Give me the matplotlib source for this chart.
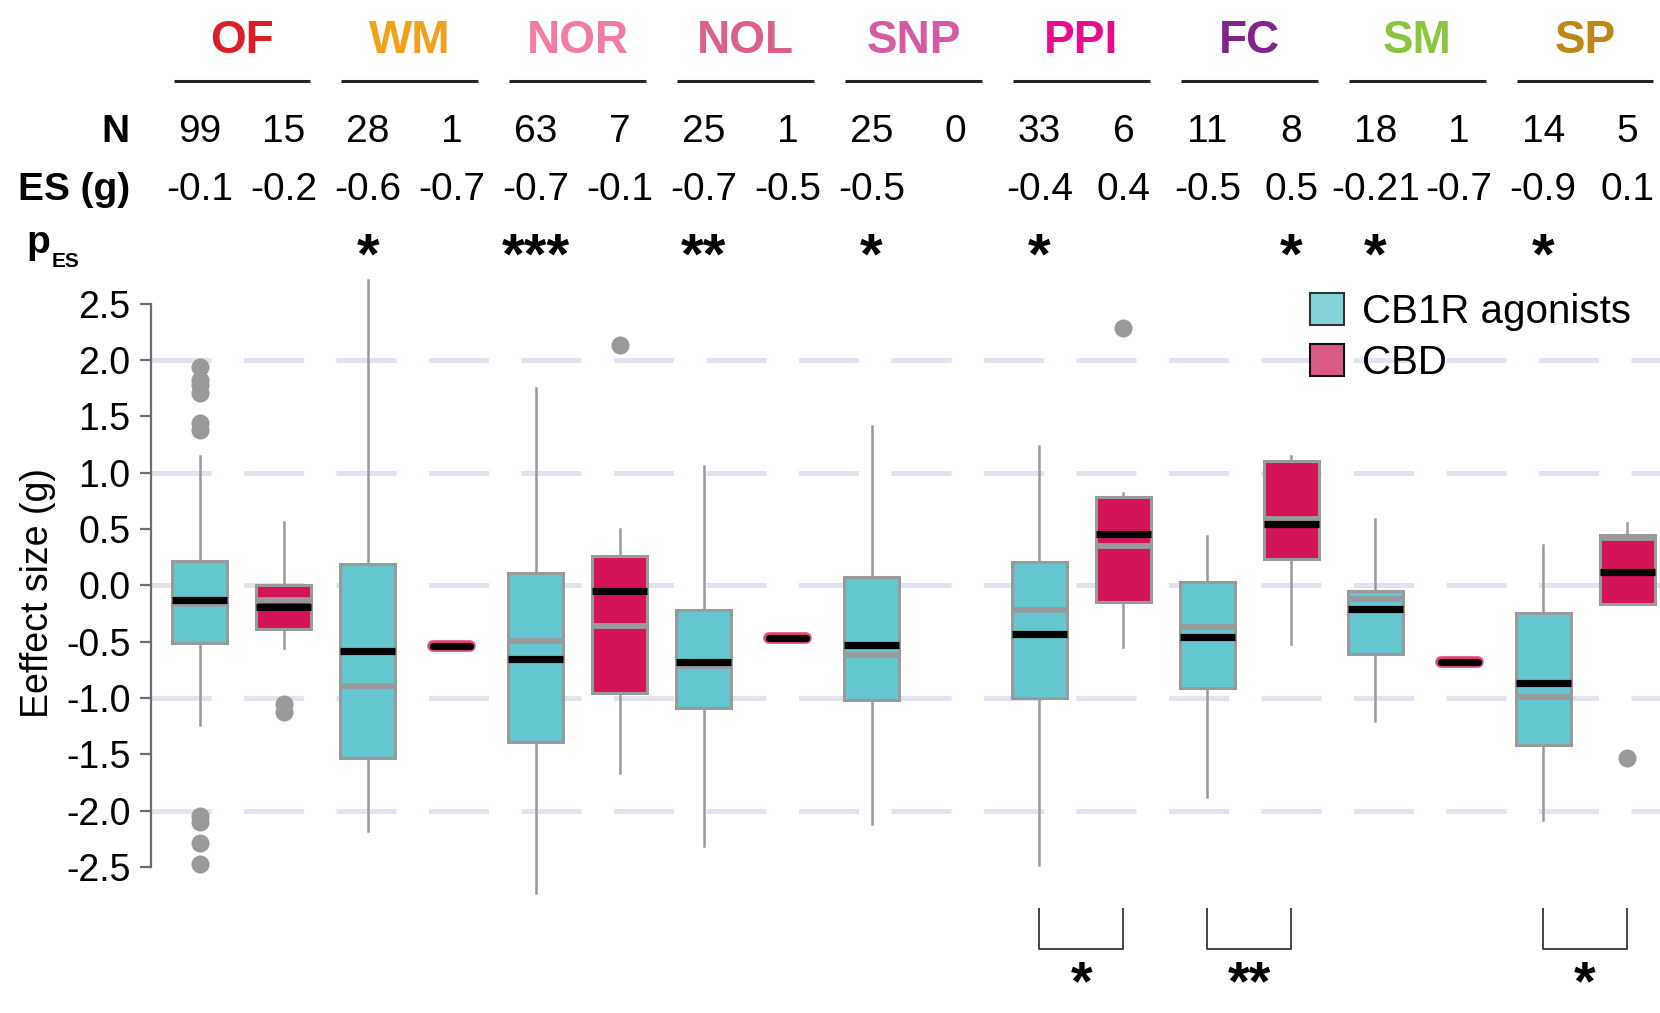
import numpy as np
import matplotlib
matplotlib.use("Agg")
import matplotlib.pyplot as plt
from matplotlib.patches import Patch
import matplotlib.patheffects as pe
from matplotlib.transforms import blended_transform_factory

plt.rcParams['font.family'] = ['Liberation Sans', 'DejaVu Sans']

# ---- behavioural domains -------------------------------------------------
groups = ['OF', 'WM', 'NOR', 'NOL', 'SNP', 'PPI', 'FC', 'SM', 'SP']
group_colors = ['#DA1F26', '#F5A01A', '#F47BA3', '#DD5F8B', '#D35CA2',
                '#EA0A8E', '#82248A', '#8CC63F', '#BE8718']

# number of studies
n_cb1r = [99, 28, 63, 25, 25, 33, 11, 18, 14]
n_cbd = [15, 1, 7, 1, 0, 6, 8, 1, 5]

# pooled effect sizes as printed
es_cb1r = ['-0.1', '-0.6', '-0.7', '-0.7', '-0.5', '-0.4', '-0.5', '-0.21', '-0.9']
es_cbd = ['-0.2', '-0.7', '-0.1', '-0.5', '', '0.4', '0.5', '-0.7', '0.1']

# significance of the pooled effect
p_cb1r = ['', '*', '***', '**', '*', '*', '', '*', '*']
p_cbd = ['', '', '', '', '', '', '*', '', '']

# CB1R agonists: box summaries
cb1r_q1 = [-0.51, -1.53, -1.39, -1.09, -1.02, -1.00, -0.91, -0.61, -1.42]
cb1r_med = [-0.17, -0.89, -0.49, -0.72, -0.62, -0.22, -0.37, -0.12, -0.99]
cb1r_q3 = [0.22, 0.19, 0.11, -0.22, 0.07, 0.21, 0.03, -0.05, -0.25]
cb1r_lo = [-1.24, -2.18, -2.73, -2.31, -2.12, -2.48, -1.88, -1.20, -2.08]
cb1r_hi = [1.15, 2.71, 1.75, 1.06, 1.41, 1.24, 0.44, 0.59, 0.36]
cb1r_mean = [-0.13, -0.58, -0.65, -0.68, -0.53, -0.43, -0.46, -0.21, -0.87]
cb1r_fliers = [[1.94, 1.82, 1.78, 1.71, 1.44, 1.38, -2.05, -2.10, -2.29, -2.47],
               [], [], [], [], [], [], [], []]

# CBD: box summaries (nan where fewer than two studies)
nan = np.nan
cbd_q1 = [-0.39, nan, -0.96, nan, nan, -0.15, 0.23, nan, -0.17]
cbd_med = [-0.13, nan, -0.36, nan, nan, 0.35, 0.59, nan, 0.42]
cbd_q3 = [0.00, nan, 0.26, nan, nan, 0.78, 1.10, nan, 0.45]
cbd_lo = [-0.56, nan, -1.67, nan, nan, -0.55, -0.52, nan, -0.17]
cbd_hi = [0.56, nan, 0.50, nan, nan, 0.82, 1.15, nan, 0.55]
cbd_mean = [-0.19, nan, -0.05, nan, nan, 0.46, 0.54, nan, 0.12]
cbd_fliers = [[-1.05, -1.12], [], [2.13], [], [], [2.28], [], [], [-1.53]]
# single-study CBD estimates
cbd_single = [nan, -0.54, nan, -0.47, nan, nan, nan, -0.68, nan]

# CB1R vs CBD comparisons
compare_groups = ['PPI', 'FC', 'SP']
compare_stars = ['*', '**', '*']

# ---- styling -------------------------------------------------------------
cyan = '#64C6CE'
crimson = '#D41459'
edge_gray = '#9A9A9A'
off = 0.25
box_w = 0.328

fig = plt.figure(figsize=(16.6, 10.13), dpi=100)
ax = fig.add_axes([0.0912, 0.1108, 0.9088, 0.6172])
ax.set_xlim(-0.539, 8.446)
ax.set_ylim(-2.8, 2.75)

for v in [-2, -1, 0, 1, 2]:
    ax.axhline(v, color='#E1E3F1', lw=3.6, dashes=(12, 6.5), zorder=0)


def make_stats(q1, med, q3, lo, hi, mean, fl):
    return dict(q1=q1, med=med, q3=q3, whislo=lo, whishi=hi, mean=mean,
                fliers=np.array(fl, dtype=float))


common = dict(widths=box_w, patch_artist=True, showmeans=True, meanline=True,
              showcaps=False,
              medianprops=dict(color=edge_gray, linewidth=4.2, solid_capstyle='butt'),
              meanprops=dict(color='black', linewidth=5.2, linestyle='-',
                             solid_capstyle='butt'),
              whiskerprops=dict(color=edge_gray, linewidth=1.8),
              flierprops=dict(marker='o', markerfacecolor='#9A9A9A',
                              markeredgecolor='none', markersize=13))

idx = np.arange(len(groups))
stats_a = [make_stats(cb1r_q1[i], cb1r_med[i], cb1r_q3[i], cb1r_lo[i],
                      cb1r_hi[i], cb1r_mean[i], cb1r_fliers[i]) for i in idx]
ax.bxp(stats_a, positions=idx - off,
       boxprops=dict(facecolor=cyan, edgecolor=edge_gray, linewidth=2.2),
       **common)

cbd_idx = [i for i in idx if not np.isnan(cbd_q1[i])]
stats_b = [make_stats(cbd_q1[i], cbd_med[i], cbd_q3[i], cbd_lo[i],
                      cbd_hi[i], cbd_mean[i], cbd_fliers[i]) for i in cbd_idx]
ax.bxp(stats_b, positions=np.array(cbd_idx) + off,
       boxprops=dict(facecolor=crimson, edgecolor=edge_gray, linewidth=2.2),
       **common)

# single studies: black bar with pink rim
for i in idx:
    v = cbd_single[i]
    if np.isnan(v):
        continue
    ax.plot([i + off - 0.11, i + off + 0.11], [v, v], color='black', lw=5.2,
            solid_capstyle='round', zorder=4,
            path_effects=[pe.Stroke(linewidth=8.4, foreground='#E5487C'),
                          pe.Normal()])

# axes styling
for s in ['top', 'right', 'bottom']:
    ax.spines[s].set_visible(False)
ax.spines['left'].set_bounds(-2.5, 2.5)
ax.spines['left'].set_color('#6E6E6E')
ax.spines['left'].set_linewidth(1.6)
ax.set_xticks([])
ticks = [2.5, 2.0, 1.5, 1.0, 0.5, 0.0, -0.5, -1.0, -1.5, -2.0, -2.5]
ax.set_yticks(ticks)
ax.set_yticklabels([f'{t:.1f}' for t in ticks])
ax.tick_params(axis='y', length=8, width=1.6, color='#6E6E6E', pad=7,
               labelsize=27)
fig.text(0.023, 0.4146, 'Eeffect size (g)', rotation=90, ha='center',
         va='center', fontsize=27)

# header table above the plot
trans = blended_transform_factory(ax.transData, fig.transFigure)
for i, g in enumerate(groups):
    ax.text(i, 0.9477, g, transform=trans, ha='center', va='baseline',
            fontsize=33, fontweight='bold', color=group_colors[i])
    ax.plot([i - 0.407, i + 0.407], [0.920, 0.920], transform=trans,
            color='#262626', lw=2.2, clip_on=False, solid_capstyle='butt')
    ax.text(i - off, 0.8598, str(n_cb1r[i]), transform=trans, ha='center',
            va='baseline', fontsize=28)
    ax.text(i + off, 0.8598, str(n_cbd[i]), transform=trans, ha='center',
            va='baseline', fontsize=28)
    ax.text(i - off, 0.8026, es_cb1r[i], transform=trans, ha='center',
            va='baseline', fontsize=28)
    ax.text(i + off, 0.8026, es_cbd[i], transform=trans, ha='center',
            va='baseline', fontsize=28)
    ax.text(i - off, 0.7295, p_cb1r[i], transform=trans, ha='center',
            va='baseline', fontsize=42, fontweight='bold')
    ax.text(i + off, 0.7295, p_cbd[i], transform=trans, ha='center',
            va='baseline', fontsize=42, fontweight='bold')

fig.text(0.0783, 0.8598, 'N', ha='right', va='baseline', fontsize=28,
         fontweight='bold')
fig.text(0.0783, 0.8026, 'ES (g)', ha='right', va='baseline', fontsize=28,
         fontweight='bold')
fig.text(0.016, 0.7502, 'p', ha='left', va='baseline', fontsize=28,
         fontweight='bold')
fig.text(0.031, 0.7364, 'ES', ha='left', va='baseline', fontsize=15,
         fontweight='bold')

# brackets for CB1R vs CBD comparisons
for g, st in zip(compare_groups, compare_stars):
    i = groups.index(g)
    ax.plot([i - off, i - off, i + off, i + off], [-2.87, -3.23, -3.23, -2.87],
            color='#444444', lw=1.4, clip_on=False)
    ax.text(i, 0.002, st, transform=trans, ha='center', va='bottom',
            fontsize=40, fontweight='bold')

# legend
handles = [Patch(facecolor='#84D3D8', edgecolor='#333333', linewidth=1.5,
                 label='CB1R agonists'),
           Patch(facecolor='#DA5A86', edgecolor='#111111', linewidth=1.5,
                 label='CBD')]
fig.legend(handles=handles, loc='upper left', bbox_to_anchor=(0.789, 0.7105),
           bbox_transform=fig.transFigure, frameon=False, fontsize=29,
           handlelength=0.85, handleheight=0.85, handletextpad=0.45,
           labelspacing=0.31, borderpad=0, borderaxespad=0)

fig.savefig('out.png', dpi=100)
